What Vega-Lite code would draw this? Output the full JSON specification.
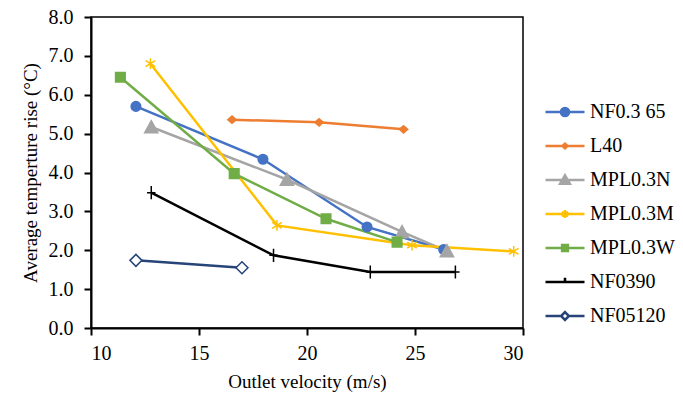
{
  "$schema": "https://vega.github.io/schema/vega-lite/v6.json",
  "autosize": {"type": "none"},
  "width": 432,
  "height": 311,
  "padding": {"left": 91, "top": 17, "right": 160, "bottom": 69},
  "background": "white",
  "config": {
    "font": "Liberation Serif",
    "view": {"stroke": "black", "strokeWidth": 1.5},
    "axis": {
      "domainColor": "black", "domainWidth": 2, "tickColor": "black", "tickWidth": 2, "tickSize": 7,
      "labelFont": "Liberation Serif", "labelFontSize": 20, "labelColor": "black",
      "titleFont": "Liberation Serif", "titleFontSize": 19, "titleFontWeight": "normal", "titleColor": "black",
      "grid": false
    },
    "legend": {
      "orient": "none", "legendX": 453, "legendY": 78, "padding": 0,
      "labelFont": "Liberation Serif", "labelFontSize": 20, "labelColor": "black",
      "symbolSize": 1521, "symbolStrokeWidth": 2.5, "symbolOpacity": 1,
      "labelOffset": 4, "rowPadding": 0, "clipHeight": 34
    }
  },
  "data": {"values": [
    {"series": "NF0.3 65", "v": 12.08, "t": 5.70},
    {"series": "NF0.3 65", "v": 17.96, "t": 4.34},
    {"series": "NF0.3 65", "v": 22.78, "t": 2.60},
    {"series": "NF0.3 65", "v": 26.33, "t": 2.02},
    {"series": "L40", "v": 16.53, "t": 5.36},
    {"series": "L40", "v": 20.56, "t": 5.29},
    {"series": "L40", "v": 24.47, "t": 5.11},
    {"series": "MPL0.3N", "v": 12.79, "t": 5.17},
    {"series": "MPL0.3N", "v": 19.07, "t": 3.82},
    {"series": "MPL0.3N", "v": 24.40, "t": 2.47},
    {"series": "MPL0.3N", "v": 26.48, "t": 1.98},
    {"series": "MPL0.3M", "v": 12.75, "t": 6.80},
    {"series": "MPL0.3M", "v": 18.61, "t": 2.64},
    {"series": "MPL0.3M", "v": 24.86, "t": 2.13},
    {"series": "MPL0.3M", "v": 29.57, "t": 1.97},
    {"series": "MPL0.3W", "v": 11.36, "t": 6.45},
    {"series": "MPL0.3W", "v": 16.63, "t": 3.97},
    {"series": "MPL0.3W", "v": 20.88, "t": 2.81},
    {"series": "MPL0.3W", "v": 24.17, "t": 2.21},
    {"series": "NF0390", "v": 12.79, "t": 3.48},
    {"series": "NF0390", "v": 18.45, "t": 1.87},
    {"series": "NF0390", "v": 22.93, "t": 1.44},
    {"series": "NF0390", "v": 26.87, "t": 1.44},
    {"series": "NF05120", "v": 12.08, "t": 1.74},
    {"series": "NF05120", "v": 16.99, "t": 1.55}
  ]},
  "encoding": {
    "x": {"field": "v", "type": "quantitative",
      "scale": {"domain": [10, 30], "nice": false, "zero": false},
      "axis": {"values": [10, 15, 20, 25, 30], "title": "Outlet velocity (m/s)", "labelFont": "Liberation Serif", "labelFontSize": 20, "titleFont": "Liberation Serif", "labelPadding": 8, "titlePadding": 9}},
    "y": {"field": "t", "type": "quantitative",
      "scale": {"domain": [0, 8], "nice": false},
      "axis": {"values": [0, 1, 2, 3, 4, 5, 6, 7, 8], "format": ".1f", "title": "Average temperture rise (°C)", "labelFont": "Liberation Serif", "labelFontSize": 20, "titleFont": "Liberation Serif", "labelPadding": 11, "titlePadding": 8}}
  },
  "layer": [
    {
      "mark": {"type": "line", "strokeWidth": 2.5},
      "encoding": {
        "color": {"field": "series", "type": "nominal", "legend": null,
          "scale": {"domain": ["NF0.3 65", "L40", "MPL0.3N", "MPL0.3M", "MPL0.3W", "NF0390", "NF05120"],
            "range": ["#4472C4", "#ED7D31", "#A5A5A5", "#FFC000", "#70AD47", "#000000", "#264478"]}}
      }
    },
    {
      "mark": {"type": "point", "size": 144, "opacity": 1, "strokeWidth": 1.5},
      "encoding": {
        "shape": {"field": "series", "type": "nominal", "legend": null,
          "scale": {"domain": ["NF0.3 65", "L40", "MPL0.3N", "MPL0.3M", "MPL0.3W", "NF0390", "NF05120"],
            "range": [
              "M0.8,0A0.8,0.8 0 1 1 -0.8,0A0.8,0.8 0 1 1 0.8,0Z",
              "M0,-0.6L0.7,0L0,0.6L-0.7,0Z",
              "M0,-1.05L1.1,0.95L-1.1,0.95Z",
              "M0,-0.9V0.9M-0.8,-0.5L0.8,0.5M-0.8,0.5L0.8,-0.5",
              "M-0.8,-0.8H0.8V0.8H-0.8Z",
              "M0,-1.1V1.1M-0.7,0H0.7",
              "M0,-1L1,0L0,1L-1,0Z"
            ]}},
        "stroke": {"field": "series", "type": "nominal", "legend": null,
          "scale": {"domain": ["NF0.3 65", "L40", "MPL0.3N", "MPL0.3M", "MPL0.3W", "NF0390", "NF05120"],
            "range": ["#4472C4", "#ED7D31", "#A5A5A5", "#FFC000", "#70AD47", "#000000", "#264478"]}},
        "fill": {"field": "series", "type": "nominal", "legend": null,
          "scale": {"domain": ["NF0.3 65", "L40", "MPL0.3N", "MPL0.3M", "MPL0.3W", "NF0390", "NF05120"],
            "range": ["#4472C4", "#ED7D31", "#A5A5A5", "transparent", "#70AD47", "transparent", "#FFFFFF"]}}
      }
    },
    {
      "mark": {"type": "point", "size": 1521, "opacity": 0, "strokeWidth": 2.5},
      "encoding": {
        "shape": {"field": "series", "type": "nominal", "title": null,
          "legend": {"labelFont": "Liberation Serif", "labelFontSize": 20},
          "scale": {"domain": ["NF0.3 65", "L40", "MPL0.3N", "MPL0.3M", "MPL0.3W", "NF0390", "NF05120"],
            "range": [
              "M-1,0H1M0.21,0A0.21,0.21 0 1 1 -0.21,0A0.21,0.21 0 1 1 0.21,0Z",
              "M-1,0H1M0,-0.12L0.13,0L0,0.12L-0.13,0Z",
              "M-1,0H1M0,-0.24L0.25,0.19L-0.25,0.19Z",
              "M-1,0H1M0,-0.2V0.2M-0.17,-0.1L0.17,0.1M-0.17,0.1L0.17,-0.1",
              "M-1,0H1M-0.15,-0.16H0.15V0.16H-0.15Z",
              "M-1,0H1M0,-0.22V0",
              "M-1,0H-0.2M0.2,0H1M0,-0.2L0.2,0L0,0.2L-0.2,0Z"
            ]}},
        "stroke": {"field": "series", "type": "nominal", "title": null,
          "legend": {"labelFont": "Liberation Serif", "labelFontSize": 20},
          "scale": {"domain": ["NF0.3 65", "L40", "MPL0.3N", "MPL0.3M", "MPL0.3W", "NF0390", "NF05120"],
            "range": ["#4472C4", "#ED7D31", "#A5A5A5", "#FFC000", "#70AD47", "#000000", "#264478"]}},
        "fill": {"field": "series", "type": "nominal", "title": null,
          "legend": {"labelFont": "Liberation Serif", "labelFontSize": 20},
          "scale": {"domain": ["NF0.3 65", "L40", "MPL0.3N", "MPL0.3M", "MPL0.3W", "NF0390", "NF05120"],
            "range": ["#4472C4", "#ED7D31", "#A5A5A5", "transparent", "#70AD47", "transparent", "#FFFFFF"]}}
      }
    }
  ],
  "resolve": {"scale": {"shape": "independent", "stroke": "independent", "fill": "independent"}, "legend": {"shape": "independent", "stroke": "independent", "fill": "independent"}}
}
